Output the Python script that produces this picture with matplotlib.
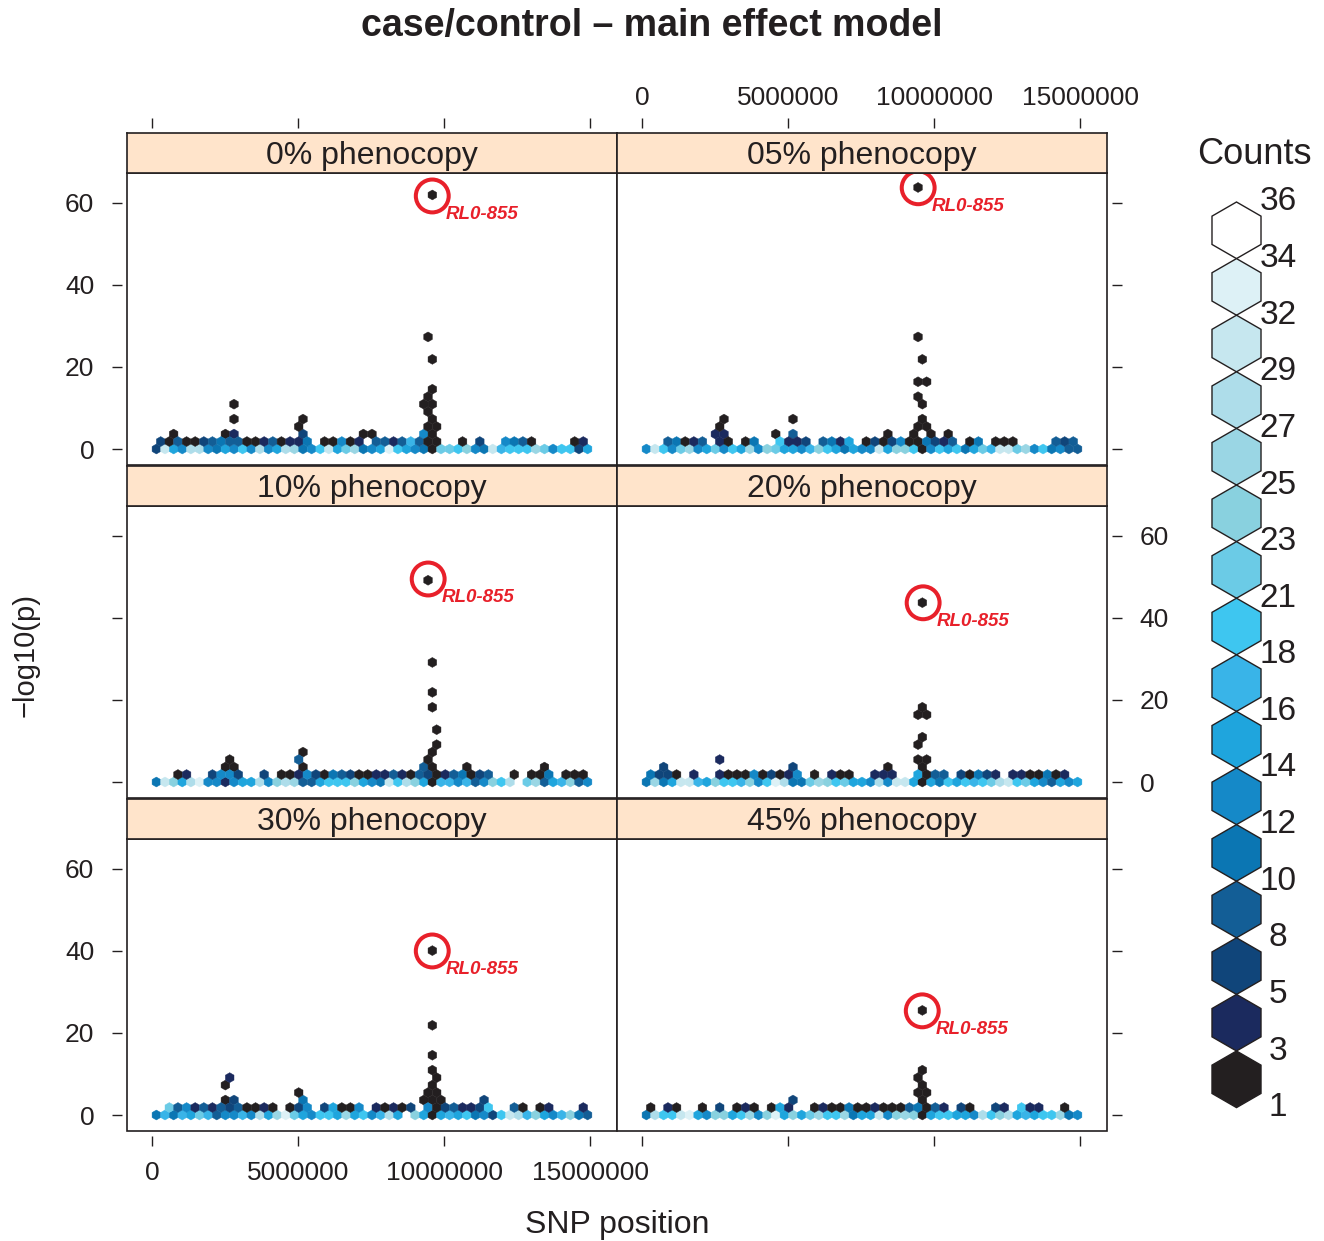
import numpy as np
import matplotlib.pyplot as plt
from matplotlib.colors import ListedColormap, BoundaryNorm
from matplotlib.patches import Rectangle, RegularPolygon
from matplotlib.ticker import FuncFormatter

plt.rcParams['font.family'] = ['Liberation Sans', 'DejaVu Sans']

W, H = 1324, 1241

panel_names = ["0% phenocopy", "05% phenocopy", "10% phenocopy",
               "20% phenocopy", "30% phenocopy", "45% phenocopy"]

# colour key (counts per hexagon)
count_labels = ["1", "3", "5", "8", "10", "12", "14", "16", "18", "21",
                "23", "25", "27", "29", "32", "34", "36"]
hex_colors = ["#231F20", "#1B2A5E", "#10457A", "#135E96", "#0B76B3", "#1589C8",
              "#1FA5DD", "#39B4E8", "#3EC6F0", "#6BCBE6", "#89D1DF", "#9AD6E4",
              "#AEDDEA", "#C6E7EF", "#DDF1F6", "#FFFFFF"]

# strongest SNP per panel (position in Mb, -log10 p)
top_snp = "RL0-855"
top_pos = [9.59, 9.45, 9.45, 9.62, 9.59, 9.59]
top_logp = [61.7, 63.7, 49.5, 43.7, 40.0, 25.4]

# hexbin grid (Mb, -log10 p)
x_first = 0.137
bin_w = 0.2955
bin_h = 3.644

# counts along the two bottom hexagon rows (row 0 at -log10 p = 0, row 1 half a bin up)
p00_row0 = [6, 30, 15, 13, 28, 28, 13, 11, 15, 13, 20, 13, 28, 13, 15, 28, 26, 11, 13, 20,
            30, 15, 22, 26, 11, 13, 15, 33, 20, 15, 13, 11, 1, 22, 22, 20, 24, 13, 11, 30,
            17, 20, 20, 20, 26, 22, 13, 20, 20, 6, 15]
p00_row1 = [6, 1, 9, 1, 1, 6, 9, 11, 9, 9, 1, 1, 4, 9, 1, 4, 4, 11, 0, 1,
            1, 13, 1, 4, 0, 9, 9, 4, 9, 17, 9, 1, 1, 0, 0, 1, 0, 6, 0, 0,
            13, 11, 9, 1, 0, 0, 0, 0, 1, 4]
p00_upper = [(0.73, 3.6, 1), (2.50, 3.6, 1), (2.80, 3.6, 4), (2.80, 7.3, 1), (2.80, 10.9, 1),
             (5.16, 3.6, 6), (5.01, 5.5, 1), (5.16, 7.3, 1), (7.23, 3.6, 1), (7.53, 3.6, 1),
             (9.30, 3.6, 13), (9.59, 3.6, 1), (9.45, 5.5, 1), (9.74, 5.5, 1), (9.59, 7.3, 1),
             (9.45, 9.1, 1), (9.30, 10.9, 1), (9.59, 10.9, 1), (9.45, 12.8, 1), (9.59, 14.6, 1),
             (9.59, 21.9, 1), (9.45, 27.3, 1)]

p05_row0 = [13, 30, 20, 13, 22, 26, 13, 15, 22, 13, 20, 15, 26, 13, 24, 22, 15, 15, 13, 17,
            24, 20, 15, 11, 15, 13, 13, 30, 15, 24, 24, 20, 1, 13, 20, 15, 20, 11, 15, 22,
            17, 30, 30, 22, 26, 13, 20, 11, 13, 9, 9]
p05_row1 = [0, 0, 9, 11, 1, 4, 9, 0, 4, 1, 0, 1, 11, 0, 0, 20, 4, 4, 6, 0,
            9, 11, 4, 15, 0, 1, 6, 1, 6, 13, 1, 1, 11, 6, 4, 9, 0, 1, 11, 0,
            1, 1, 1, 0, 0, 0, 0, 9, 6, 9]
p05_upper = [(2.50, 3.6, 4), (2.80, 3.6, 4), (2.65, 5.5, 1), (2.80, 7.3, 1), (4.57, 3.6, 1),
             (5.16, 3.6, 9), (5.16, 7.3, 1), (8.41, 3.6, 1), (10.48, 3.6, 1), (9.30, 3.6, 1),
             (9.89, 3.6, 1), (9.45, 5.5, 1), (9.74, 5.5, 1), (9.59, 7.3, 1), (9.59, 10.9, 1),
             (9.45, 12.8, 1), (9.45, 16.4, 1), (9.74, 16.4, 1), (9.59, 21.9, 1), (9.45, 27.3, 1)]

p10_row0 = [11, 30, 24, 15, 28, 33, 13, 13, 4, 13, 15, 15, 28, 13, 24, 28, 26, 9, 9, 15,
            20, 20, 20, 24, 15, 13, 11, 30, 20, 28, 24, 15, 1, 17, 17, 13, 17, 9, 13, 24,
            20, 28, 0, 22, 26, 9, 15, 17, 24, 9, 13]
p10_row1 = [0, 0, 1, 4, 0, 0, 6, 13, 13, 6, 0, 0, 6, 0, 1, 1, 4, 13, 6, 1,
            11, 9, 6, 1, 1, 4, 4, 9, 4, 1, 9, 6, 1, 4, 9, 11, 1, 6, 9, 0,
            0, 1, 0, 1, 1, 11, 0, 1, 1, 1]
p10_upper = [(2.50, 3.6, 1), (2.80, 3.6, 1), (2.65, 5.5, 1), (5.16, 3.6, 1), (5.01, 5.5, 9),
             (5.16, 7.3, 1), (9.30, 3.6, 9), (10.78, 3.6, 1), (13.43, 3.6, 1), (9.59, 3.6, 1),
             (9.45, 5.5, 1), (9.59, 7.3, 1), (9.74, 9.1, 1), (9.74, 12.8, 1), (9.59, 18.2, 1),
             (9.59, 21.9, 1), (9.59, 29.2, 1)]

p20_row0 = [11, 26, 11, 15, 30, 30, 17, 15, 24, 20, 20, 17, 24, 13, 20, 33, 28, 11, 11, 22,
            26, 24, 20, 22, 15, 15, 13, 28, 13, 30, 30, 15, 1, 15, 11, 20, 15, 20, 17, 20,
            22, 28, 30, 20, 22, 15, 13, 9, 15, 13, 15]
p20_row1 = [11, 6, 6, 1, 0, 4, 0, 0, 4, 1, 1, 1, 13, 1, 6, 1, 4, 13, 0, 1,
            0, 4, 1, 1, 0, 0, 4, 4, 4, 0, 0, 15, 1, 9, 9, 0, 6, 1, 11, 6,
            4, 0, 4, 4, 1, 1, 11, 1, 4, 0]
p20_upper = [(0.73, 3.6, 6), (2.65, 5.5, 4), (5.16, 3.6, 6), (8.41, 3.6, 1), (9.59, 3.6, 1),
             (9.45, 5.5, 1), (9.74, 5.5, 1), (9.45, 9.1, 1), (9.59, 10.9, 1), (9.45, 16.4, 1),
             (9.74, 16.4, 1), (9.59, 18.2, 1)]

p30_row0 = [11, 17, 11, 17, 15, 22, 17, 9, 13, 13, 17, 13, 28, 15, 26, 33, 22, 15, 13, 20,
            20, 15, 26, 15, 20, 13, 17, 28, 15, 0, 24, 15, 1, 15, 17, 15, 20, 11, 13, 6,
            20, 30, 28, 17, 24, 15, 13, 17, 24, 11, 9]
p30_row1 = [0, 22, 9, 13, 4, 9, 4, 9, 6, 9, 1, 1, 4, 1, 0, 1, 6, 13, 0, 6,
            15, 1, 1, 13, 0, 4, 1, 4, 1, 6, 0, 13, 1, 6, 9, 4, 4, 6, 20, 0,
            0, 9, 1, 0, 1, 4, 0, 0, 0, 4]
p30_upper = [(2.50, 3.6, 1), (2.80, 3.6, 6), (2.50, 7.3, 1), (2.65, 9.1, 4), (5.01, 5.5, 1),
             (5.16, 3.6, 11), (11.37, 3.6, 6), (9.30, 3.6, 1), (9.59, 3.6, 1), (9.89, 3.6, 1),
             (9.45, 5.5, 1), (9.74, 5.5, 1), (9.59, 7.3, 1), (9.74, 9.1, 1), (9.59, 10.9, 1),
             (9.59, 14.6, 1), (9.59, 21.9, 1)]

p45_row0 = [11, 28, 20, 20, 30, 33, 15, 13, 24, 24, 15, 20, 26, 13, 24, 33, 15, 24, 15, 22,
            26, 20, 20, 26, 11, 15, 15, 30, 13, 24, 26, 24, 1, 15, 20, 20, 15, 15, 13, 28,
            20, 24, 28, 15, 17, 15, 20, 20, 26, 11, 13]
p45_row1 = [1, 0, 4, 1, 0, 0, 1, 0, 6, 0, 1, 4, 1, 0, 1, 15, 4, 0, 0, 1,
            4, 1, 1, 11, 1, 1, 4, 1, 1, 1, 9, 11, 1, 9, 4, 0, 6, 1, 0, 0,
            6, 4, 0, 20, 4, 4, 0, 0, 1, 0]
p45_upper = [(5.16, 3.6, 6), (9.59, 3.6, 1), (9.45, 5.5, 1), (9.74, 5.5, 1), (9.59, 7.3, 1),
             (9.45, 9.1, 1), (9.59, 10.9, 1)]

rows0 = [p00_row0, p05_row0, p10_row0, p20_row0, p30_row0, p45_row0]
rows1 = [p00_row1, p05_row1, p10_row1, p20_row1, p30_row1, p45_row1]
uppers = [p00_upper, p05_upper, p10_upper, p20_upper, p30_upper, p45_upper]

ink = '#231F20'
red = '#E8202A'
strip_color = '#FFE4CB'


def px_box(x, y, w, h):
    return [x / W, 1 - (y + h) / H, w / W, h / H]


def panel_points(row0, row1, upper, px, py):
    xs, ys, cs = [], [], []
    for i, c in enumerate(row0):
        if c:
            xs.append(x_first + i * bin_w); ys.append(0.0); cs.append(c)
    for i, c in enumerate(row1):
        if c:
            xs.append(x_first + (i + 0.5) * bin_w); ys.append(bin_h / 2); cs.append(c)
    for x, y, c in upper:
        xs.append(x); ys.append(y); cs.append(c)
    xs.append(px); ys.append(py); cs.append(1)
    return np.array(xs), np.array(ys), np.array(cs, dtype=float)


cmap = ListedColormap(hex_colors)
norm = BoundaryNorm(np.linspace(1, 36, 17), cmap.N)

fig = plt.figure(figsize=(W / 100, H / 100), dpi=100)

for k in range(6):
    col, row = k % 2, k // 2
    x0 = 127 + col * 490
    y0 = 173 + row * 333
    ax = fig.add_axes(px_box(x0, y0, 490, 292))
    xs, ys, cs = panel_points(rows0[k], rows1[k], uppers[k], top_pos[k], top_logp[k])
    ax.hexbin(xs, ys, C=cs, reduce_C_function=np.sum, gridsize=(50, 20),
              extent=(x_first, x_first + 50 * bin_w, 0, 20 * bin_h),
              cmap=cmap, norm=norm, linewidths=0.3, edgecolors='face')
    ax.set_xlim(-0.87, 15.92)
    ax.set_ylim(-3.9, 67.3)

    # red ring + label on the top SNP
    ax.scatter([top_pos[k]], [top_logp[k]], s=560, facecolors='none',
               edgecolors=red, linewidths=2.9, zorder=3)
    ax.annotate(top_snp, (top_pos[k], top_logp[k]), xytext=(10, -13.4),
                textcoords='offset points', color=red, fontsize=13.5,
                fontweight='bold', fontstyle='italic', ha='left', va='center')

    for side in ['left', 'right', 'top', 'bottom']:
        ax.spines[side].set_visible(False)
        ax.spines[side].set_position(('outward', 3.6))
    ax.spines['top'].set_position(('outward', 32.4))
    ax.add_patch(Rectangle((0, 0), 1, 1, transform=ax.transAxes, fill=False,
                           edgecolor=ink, lw=1.2, clip_on=False, zorder=5))

    ax.set_xticks([0, 5, 10, 15])
    ax.set_yticks([0, 20, 40, 60])
    ax.xaxis.set_major_formatter(FuncFormatter(lambda v, p: f"{v * 1e6:.0f}"))
    ax.tick_params(direction='out', length=7, width=1, color=ink,
                   labelcolor=ink, labelsize=19)
    ax.tick_params(axis='x', pad=6 if row == 0 else 11)
    ax.tick_params(axis='y', pad=13)
    ax.tick_params(left=(col == 0), labelleft=(col == 0 and row != 1),
                   right=(col == 1), labelright=(col == 1 and row == 1),
                   top=(row == 0), labeltop=(row == 0 and col == 1),
                   bottom=(row == 2), labelbottom=(row == 2 and col == 0))

    # strip with the panel name
    st = fig.add_axes(px_box(x0, y0 - 40, 490, 40))
    st.set_facecolor(strip_color)
    st.set_xticks([]); st.set_yticks([])
    for sp in st.spines.values():
        sp.set_color(ink); sp.set_linewidth(1.2)
    st.text(0.5, 0.42, panel_names[k], ha='center', va='center',
            fontsize=23, color=ink, transform=st.transAxes)

# colour key
leg = fig.add_axes(px_box(1190, 180, 134, 950))
leg.set_xlim(1190, 1324)
leg.set_ylim(1130, 180)
leg.axis('off')
hex_r = 28.3
key_top = 202
for m in range(16):
    leg.add_patch(RegularPolygon((1236.5, key_top + (m + 0.5) * 2 * hex_r), 6, radius=hex_r,
                                 facecolor=hex_colors[15 - m], edgecolor=ink, lw=1))
for m, lab in enumerate(count_labels[::-1]):
    leg.text(1278, key_top + m * 2 * hex_r, lab, ha='center', va='center',
             fontsize=24, color=ink)
fig.text(1254 / W, 1 - 154 / H, "Counts", ha='center', va='center', fontsize=26, color=ink)

fig.text(652 / W, 1 - 26 / H, "case/control \u2013 main effect model", ha='center',
         va='center', fontsize=27, fontweight='bold', color=ink)
fig.text(617 / W, 1 - 1225 / H, "SNP position", ha='center', va='center',
         fontsize=23, color=ink)
fig.text(26 / W, 1 - 655 / H, "\u2212log10(p)", ha='center', va='center',
         rotation=90, fontsize=21, color=ink)

fig.savefig("out.png", dpi=100)
